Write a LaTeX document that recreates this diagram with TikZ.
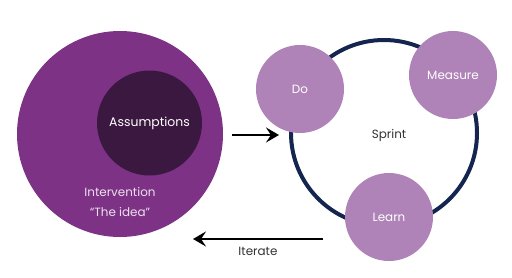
\documentclass[tikz,border=0pt]{standalone}
\usepackage{fontspec}
\setmainfont{Poppins}
\usetikzlibrary{arrows.meta}
\definecolor{bigp}{HTML}{7E3286}
\definecolor{darkp}{HTML}{3B1840}
\definecolor{lightp}{HTML}{AF83B7}
\definecolor{ring}{HTML}{14254F}
\begin{document}
\begin{tikzpicture}[x=1bp,y=-1bp,
  small/.style={circle,fill=lightp,minimum size=88bp,inner sep=0pt,text=white,font=\fontsize{12}{14}\selectfont},
  lbl/.style={font=\fontsize{12}{14}\selectfont},
  arr/.style={-{Stealth[length=13bp,width=15bp,inset=5bp]},line width=2.2bp}]
\useasboundingbox (0,0) rectangle (512,277);
\node[circle,fill=bigp,minimum size=206bp,inner sep=0pt] (big) at (120,134) {};
\node[circle,fill=darkp,minimum size=105bp,inner sep=0pt,text=white,font=\fontsize{12.5}{14}\selectfont] (ass) at (149.5,123) {Assumptions};
\node[text=white!85!bigp,lbl] (int) at (120,192) {Intervention};
\node[text=white!85!bigp,lbl] (idea) at (120,212) {“The idea”};
\node[circle,draw=ring,line width=4bp,minimum size=186bp,inner sep=0pt] (sprint) at (384,133) {};
\node[lbl,text=black!80] (spt) at (389,135) {Sprint};
\node[small] (do) at (300,89) {Do};
\node[small] (meas) at (453,75) {Measure};
\node[small] (learn) at (389,217) {Learn};
\coordinate (a1) at (232,135);
\coordinate (a2) at (279,135);
\draw[arr] (a1) -- (a2);
\coordinate (b1) at (323,239);
\coordinate (b2) at (193,239);
\draw[arr] (b1) -- (b2);
\node[lbl,text=black!80] (it) at (258,251) {Iterate};
\end{tikzpicture}
\end{document}
